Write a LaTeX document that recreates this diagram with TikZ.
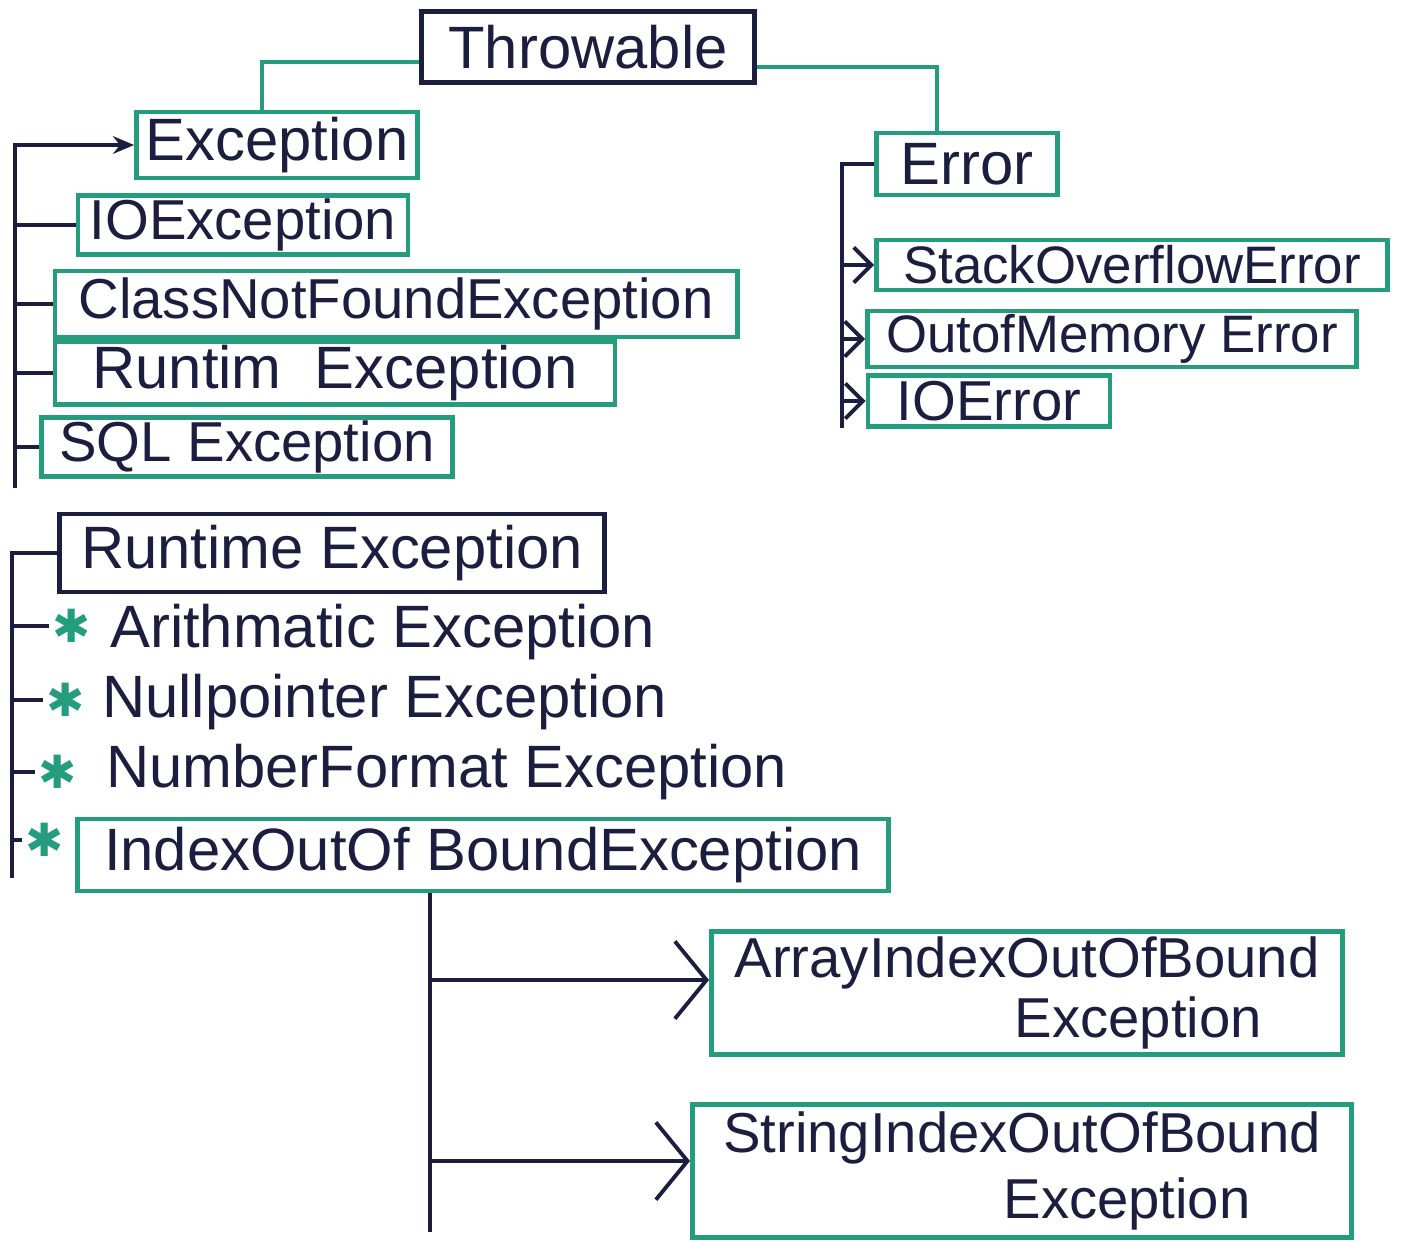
\documentclass[tikz,border=0pt]{standalone}
\usepackage{fontspec}
\setmainfont{Liberation Sans}
\newfontfamily\symfont{DejaVu Sans}
\usepackage{xcolor}
\usetikzlibrary{arrows.meta,positioning,calc}
\definecolor{inkblue} {RGB}{28,30,64}
\definecolor{penteal} {RGB}{36,156,126}
\tikzset{
  clsbox/.style ={draw=penteal, line width=1.3pt, text=inkblue, inner sep=1pt,
                  font=\fontsize{17}{20}\selectfont},
  rootbox/.style={clsbox, draw=inkblue},
  lbl/.style    ={text=inkblue, inner sep=1pt, anchor=west,
                  font=\fontsize{17}{20}\selectfont},
  star/.style   ={text=penteal, inner sep=1pt, font=\symfont\fontsize{13}{13}\selectfont},
  link/.style   ={draw=penteal, line width=1.3pt},
  conn/.style   ={draw=inkblue, line width=1.1pt},
  arr/.style    ={conn, -{Stealth[length=6pt,width=5pt]}},
  barb/.style   ={conn, -{Straight Barb[length=5pt,width=10pt]}},
  bigbarb/.style={conn, -{Straight Barb[length=9pt,width=22pt]}},
}
\begin{document}
\begin{tikzpicture}[x=0.01cm, y=-0.01cm]
  \useasboundingbox (0,0) rectangle (1404,1241);

  % top of the tree
  \node[rootbox, minimum width=3.33cm, minimum height=0.71cm] (throw) at (588,47) {Throwable};

  % Exception side
  \node[clsbox, minimum width=2.81cm, minimum height=0.66cm] (exc) at (277,145) {Exception};
  \node[clsbox, minimum width=3.30cm, minimum height=0.50cm,
        font=\fontsize{16}{19}\selectfont] (ioexc) at (243,225) {IOException};
  \node[clsbox, minimum width=6.82cm, minimum height=0.66cm,
        font=\fontsize{16}{19}\selectfont] (cnf) at (396,304) {ClassNotFoundException};
  \node[clsbox, minimum width=5.60cm, minimum height=0.62cm] (rtim) at (335,373) {Runtim \ Exception};
  \node[clsbox, minimum width=4.11cm, minimum height=0.59cm,
        font=\fontsize{16}{19}\selectfont] (sql) at (247,447) {SQL Exception};

  % Error side
  \node[clsbox, minimum width=1.81cm, minimum height=0.62cm] (err) at (967,164) {Error};
  \node[clsbox, minimum width=5.11cm, minimum height=0.50cm,
        font=\fontsize{15}{18}\selectfont] (soe) at (1132,265) {StackOverflowError};
  \node[clsbox, minimum width=4.89cm, minimum height=0.52cm,
        font=\fontsize{15}{18}\selectfont] (oom) at (1112,339) {OutofMemory Error};
  \node[clsbox, minimum width=2.42cm, minimum height=0.51cm,
        font=\fontsize{16}{19}\selectfont] (ioerr) at (989,401) {IOError};

  % RuntimeException
  \node[rootbox, minimum width=5.45cm, minimum height=0.78cm] (rte) at (332,553) {Runtime Exception};
  \node[star] (ast1) at (72,626) {✱};
  \node[lbl]  (arith) at (106,632) {Arithmatic Exception};
  \node[star] (ast2) at (66,700) {✱};
  \node[lbl]  (npe) at (98,702) {Nullpointer Exception};
  \node[star] (ast3) at (58,772) {✱};
  \node[lbl]  (nfe) at (102,772) {NumberFormat Exception};
  \node[star] (ast4) at (45,840) {✱};
  \node[clsbox, minimum width=8.10cm, minimum height=0.72cm] (ioob) at (483,855)
        {IndexOutOf BoundException};

  \node[clsbox, minimum width=6.31cm, minimum height=1.23cm, align=left,
        font=\fontsize{16}{19}\selectfont] (aioob) at (1027,993)
        {ArrayIndexOutOfBound\\[-2pt]\hspace*{2.8cm}Exception};
  \node[clsbox, minimum width=6.59cm, minimum height=1.33cm, align=left,
        font=\fontsize{16}{19}\selectfont] (sioob) at (1022,1171)
        {StringIndexOutOfBound\\[0pt]\hspace*{2.8cm}Exception};

  % spines
  \coordinate (sp1b) at (15,488);
  \coordinate (sp4b) at (842,428);
  \coordinate (sp2b) at (12,878);
  \coordinate (sp3b) at (430,1232);
  \coordinate (aarr) at ([yshift=0.13cm]aioob.west);
  \coordinate (sarr) at ([yshift=0.1cm]sioob.west);

  \draw[link] ([yshift=-0.15cm]throw.west) -| ([xshift=-0.15cm]exc.north);
  \draw[link] ([yshift=-0.2cm]throw.east) -| ([xshift=-0.3cm]err.north);

  \draw[arr] (sp1b) |- (exc.west);
  \foreach \n in {ioexc,cnf,rtim,sql} \draw[conn] (sp1b |- \n.west) -- (\n.west);

  \draw[conn] (sp4b) |- (err.west);
  \foreach \n in {soe,oom,ioerr} \draw[barb] (sp4b |- \n.west) -- (\n.west);

  \draw[conn] (sp2b) |- (rte.west);
  \foreach \n in {ast1,ast2,ast3,ast4} \draw[conn] (sp2b |- \n.west) -- (\n.west);

  \draw[conn] (ioob.south -| sp3b) -- (sp3b);
  \draw[bigbarb] (sp3b |- aarr) -- (aarr);
  \draw[bigbarb] (sp3b |- sarr) -- (sarr);
\end{tikzpicture}
\end{document}
